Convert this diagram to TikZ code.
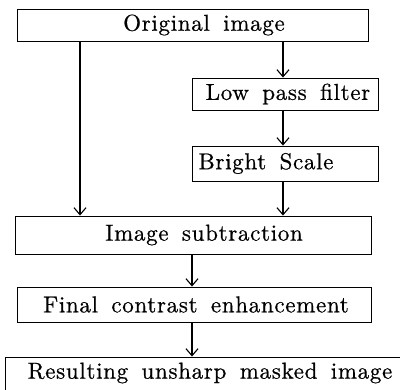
\documentclass[tikz,border=0pt]{standalone}
\usepackage{fontspec}
\setmainfont{lmroman10-regular.otf}[LetterSpace=3, WordSpace=1.6, FakeBold=0.6]
\usetikzlibrary{arrows.meta}

\tikzset{
  box/.style={draw, line width=0.9pt, rectangle, inner sep=0pt},
  lbl/.style={inner sep=0pt, font=\fontsize{23}{26}\selectfont, anchor=center},
  arr/.style={line width=1.1pt, -{Straight Barb[length=7pt,width=12pt,line width=1.1pt]}},
}

\begin{document}
\begin{tikzpicture}[x=1pt, y=-1pt]
  \useasboundingbox (0,0) rectangle (400,390);

  % column positions of the vertical connectors
  \coordinate (lx) at (80,0);
  \coordinate (rx) at (283,0);
  \coordinate (cx) at (192,0);

  % boxes
  \node[box, minimum width=351pt, minimum height=32pt] (orig)   at (192.5,25) {};
  \node[box, minimum width=186pt, minimum height=32pt] (lpf)    at (285,94) {};
  \node[box, minimum width=186pt, minimum height=35pt] (bright) at (285,163.5) {};
  \node[box, minimum width=356pt, minimum height=38pt] (sub)    at (193,235) {};
  \node[box, minimum width=354pt, minimum height=35pt] (final)  at (194,304.5) {};
  \begin{scope}
    \clip (0,0) rectangle (400,390);
    \node[box, minimum width=400pt, minimum height=38pt] (result) at (205,376) {};
  \end{scope}

  % labels
  \node[lbl] (torig)   at (204,25)  {Original image};
  \node[lbl] (tlpf)    at (288,94)  {Low pass filter};
  \node[lbl] (tbright) at (266,163.5) {Bright Scale};
  \node[lbl] (tsub)    at (204,235) {Image subtraction};
  \node[lbl] (tfinal)  at (196,304.5) {Final contrast enhancement};
  \node[lbl] (tres)    at (210,373) {Resulting unsharp masked image};

  % connectors
  \draw[arr] (orig.south -| lx) -- (sub.north -| lx);
  \draw[arr] (orig.south -| rx) -- (lpf.north -| rx);
  \draw[arr] (lpf.south -| rx) -- (bright.north -| rx);
  \draw[arr] (bright.south -| rx) -- (sub.north -| rx);
  \draw[arr] (sub.south -| cx) -- (final.north -| cx);
  \draw[arr] (final.south -| cx) -- (result.north -| cx);
\end{tikzpicture}
\end{document}
